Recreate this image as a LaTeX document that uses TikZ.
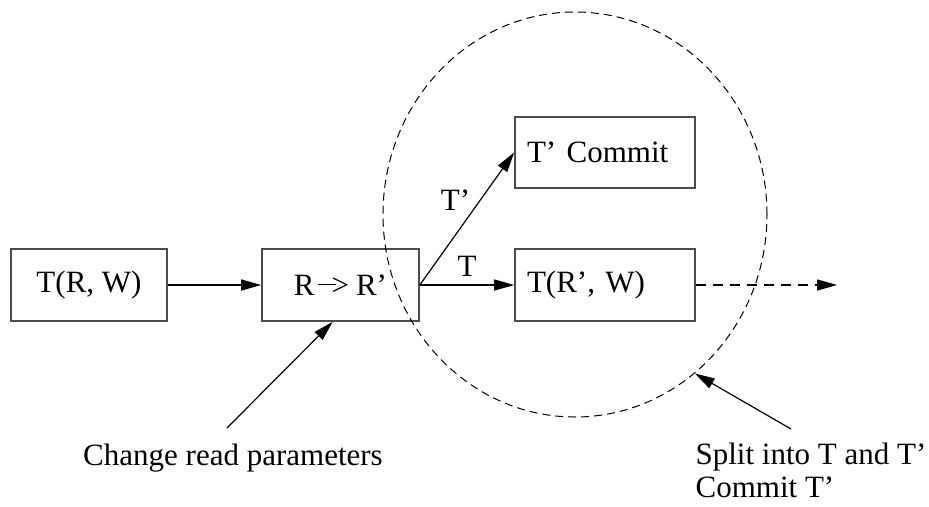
\documentclass[tikz,border=0pt]{standalone}
\usepackage{fontspec}
\setmainfont{Liberation Serif}
\usetikzlibrary{positioning, arrows.meta, shapes.geometric, calc}

\begin{document}
\begin{tikzpicture}[
      x=1pt, y=-1pt,
      every node/.style={font=\fontsize{31}{33}\selectfont},
      txnbox/.style={draw=black!70, line width=1.6pt, minimum height=72pt, inner sep=0pt},
      splitbox/.style={txnbox, text width=156pt, inner xsep=12pt, align=left},
      line width=1.2pt,
      >={Triangle[length=20pt, width=11pt]},
    ]
    \useasboundingbox (0,0) rectangle (929,506);

    \node[txnbox, minimum width=156pt] (trw) at (89, 285) {T(R, W)};
    \node[txnbox, minimum width=157pt] (rr) at (340.5, 285)
      {R\kern3pt\rule[0.33em]{18pt}{0.9pt}\kern-4pt>\kern7pt R'};
    \node[splitbox, minimum height=71pt] (commit) at (605, 152.5) {T' Commit};
    \node[splitbox] (trw2) at (605, 285) {T(R', W)};

    \node[draw, ellipse, dash pattern=on 8pt off 5pt, line width=1pt, inner sep=0pt,
      minimum width=384pt, minimum height=405pt] (splitarea) at (575, 214.5) {};

    \coordinate (next) at (837, 285);
    \coordinate (chgfrom) at (227, 428);
    \coordinate (splitfrom) at (791, 429);

    \node[anchor=base] (chglabel) at (233, 465) {Change read parameters};
    \node[anchor=north west, inner sep=0pt, align=left] (splitlabel) at (695, 442)
      {Split into T and T'\\Commit T'};

    \draw[->] (trw) -- (rr);
    \draw[->] (rr) -- node[above=5pt] (tlabel) {T} (trw2);
    \draw[->] (rr.east) -- node[anchor=south east, inner sep=1pt, pos=0.55] (tplabel) {T'} (commit.west);
    \draw[->, dash pattern=on 10pt off 7pt] (trw2) -- (next);
    \draw[->] (chgfrom) -- (rr.-102);
    \draw[->] (splitfrom) -- (splitarea.-53);
  \end{tikzpicture}
\end{document}
